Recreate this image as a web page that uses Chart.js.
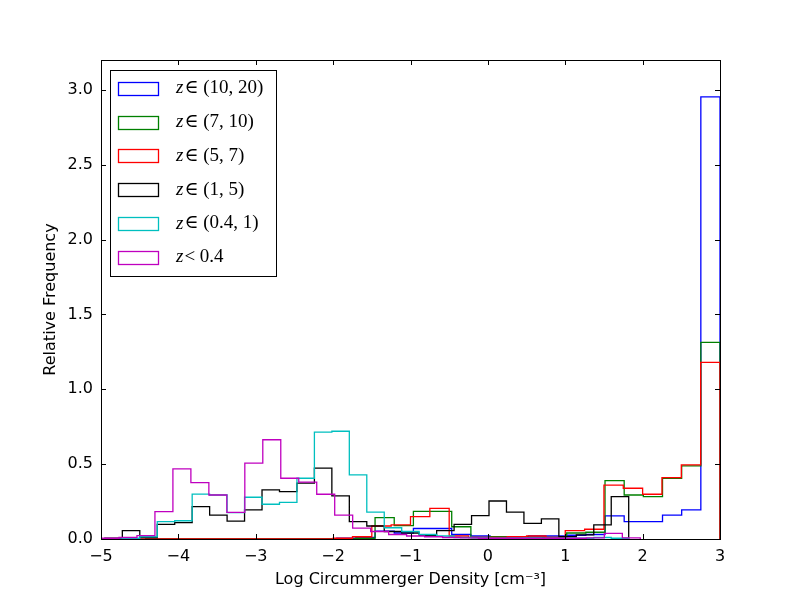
<!DOCTYPE html>
<html>
<head>
<meta charset="utf-8">
<script src="https://cdn.jsdelivr.net/npm/chart.js@4.4.1/dist/chart.umd.min.js"></script>
<style>
  body { margin: 0; background: #fff; }
</style>
</head>
<body>
<canvas id="hist" width="800" height="600"></canvas>
<script>
// bin range [lo, hi] of each histogram (30 bins each) and the bin heights
const blueRange = [-4.43, 3.0];
const blueHeights = [0, 0, 0, 0, 0, 0, 0, 0, 0, 0, 0.005, 0.01, 0.053, 0.04, 0.07, 0.07, 0.03, 0.02, 0.015, 0.015, 0.02, 0.02, 0.025, 0.03, 0.154, 0.116, 0.116, 0.16, 0.194, 2.954];

const greenRange = [-4.43, 3.0];
const greenHeights = [0, 0, 0, 0, 0, 0, 0, 0, 0, 0, 0, 0.005, 0.143, 0.089, 0.185, 0.185, 0.082, 0.01, 0.015, 0.015, 0.01, 0.01, 0.04, 0.045, 0.39, 0.294, 0.283, 0.406, 0.489, 1.314];

const redRange = [-4.5, 3.0];
const redHeights = [0, 0, 0, 0, 0, 0, 0, 0, 0, 0, 0.005, 0.015, 0.087, 0.094, 0.15, 0.205, 0.02, 0.01, 0.01, 0.015, 0.02, 0.01, 0.056, 0.065, 0.36, 0.339, 0.299, 0.41, 0.495, 1.18];

const blackRange = [-4.95, 1.82];
const blackHeights = [0.005, 0.056, 0.01, 0.098, 0.11, 0.216, 0.16, 0.12, 0.194, 0.328, 0.317, 0.373, 0.473, 0.288, 0.116, 0.087, 0.05, 0.04, 0.025, 0.056, 0.098, 0.156, 0.254, 0.179, 0.105, 0.134, 0.015, 0.027, 0.094, 0.283];

const cyanRange = [-4.95, 1.82];
const cyanHeights = [0, 0.005, 0.015, 0.116, 0.122, 0.30, 0.294, 0.176, 0.279, 0.232, 0.245, 0.406, 0.714, 0.72, 0.428, 0.179, 0.075, 0.05, 0.03, 0.02, 0.01, 0.008, 0.005, 0.005, 0.008, 0.005, 0.005, 0.005, 0.01, 0.005];

const magentaRange = [-5.0, 1.97];
const magentaHeights = [0.005, 0.01, 0.022, 0.183, 0.468, 0.377, 0.294, 0.178, 0.507, 0.663, 0.406, 0.38, 0.299, 0.16, 0.072, 0.05, 0.03, 0.02, 0.015, 0.01, 0.008, 0.005, 0.005, 0.005, 0.005, 0.005, 0.005, 0.008, 0.038, 0.008];

const labels = ["z∈ (10, 20)", "z∈ (7, 10)", "z∈ (5, 7)", "z∈ (1, 5)", "z∈ (0.4, 1)", "z< 0.4"];
const xTicks = [-5, -4, -3, -2, -1, 0, 1, 2, 3];
const yTicks = [0, 0.5, 1.0, 1.5, 2.0, 2.5, 3.0];

// outline of a step histogram: up at the first edge, along each bin, down at the last edge
function stepPoints(range, heights) {
  const w = (range[1] - range[0]) / heights.length;
  const pts = [{ x: range[0], y: 0 }];
  heights.forEach((h, i) => pts.push({ x: range[0] + i * w, y: h }));
  pts.push({ x: range[1], y: heights[heights.length - 1] });
  pts.push({ x: range[1], y: 0 });
  return pts;
}

const series = [
  [blueRange, blueHeights, "#0000ff"],
  [greenRange, greenHeights, "#008000"],
  [redRange, redHeights, "#ff0000"],
  [blackRange, blackHeights, "#000000"],
  [cyanRange, cyanHeights, "#00bfbf"],
  [magentaRange, magentaHeights, "#bf00bf"],
];

const datasets = series.map((s, i) => ({
  label: labels[i],
  data: stepPoints(s[0], s[1]),
  borderColor: s[2],
  borderWidth: 1.3,
  stepped: true,
  fill: false,
  pointRadius: 0,
  pointHoverRadius: 0,
  order: series.length - i,
}));

const tickFont = { family: "DejaVu Sans", size: 16 };

const framePlugin = {
  id: "frame",
  afterDraw(chart) {
    const ctx = chart.ctx;
    const a = chart.chartArea;
    const xs = chart.scales.x;
    const ys = chart.scales.y;
    ctx.save();
    ctx.strokeStyle = "#000";
    ctx.lineWidth = 1;
    ctx.strokeRect(Math.round(a.left) + 0.5, Math.round(a.top) + 0.5,
      Math.round(a.right - a.left), Math.round(a.bottom - a.top));

    // inward ticks on all four sides
    ctx.beginPath();
    xTicks.forEach(v => {
      const px = Math.round(xs.getPixelForValue(v)) + 0.5;
      ctx.moveTo(px, a.bottom); ctx.lineTo(px, a.bottom - 5);
      ctx.moveTo(px, a.top); ctx.lineTo(px, a.top + 5);
    });
    yTicks.forEach(v => {
      const py = Math.round(ys.getPixelForValue(v)) + 0.5;
      ctx.moveTo(a.left, py); ctx.lineTo(a.left + 5, py);
      ctx.moveTo(a.right, py); ctx.lineTo(a.right - 5, py);
    });
    ctx.stroke();

    // axis titles
    ctx.fillStyle = "#000";
    ctx.font = '16px "DejaVu Sans"';
    ctx.textAlign = "center";
    ctx.textBaseline = "middle";
    ctx.fillText("Log Circummerger Density [cm⁻³]", (a.left + a.right) / 2, 580);
    ctx.save();
    ctx.translate(51, (a.top + a.bottom) / 2);
    ctx.rotate(-Math.PI / 2);
    ctx.fillText("Relative Frequency", 0, 0);
    ctx.restore();

    // legend box
    const lx = 110.5, ly = 70.5, lw = 166, lh = 206;
    ctx.fillStyle = "#fff";
    ctx.fillRect(lx, ly, lw, lh);
    ctx.strokeStyle = "#000";
    ctx.strokeRect(lx, ly, lw, lh);
    ctx.textAlign = "left";
    chart.data.datasets.forEach((ds, i) => {
      const cy = 88.3 + i * 33.8;
      ctx.strokeStyle = ds.borderColor;
      ctx.lineWidth = 1.3;
      ctx.strokeRect(118.5, Math.round(cy - 6.5) + 0.5, 40, 13);
      let tx = 176;
      ctx.fillStyle = "#000";
      ctx.font = 'italic 19px "Liberation Serif", "DejaVu Serif"';
      ctx.fillText(ds.label[0], tx, cy);
      tx += ctx.measureText(ds.label[0]).width + 1;
      ctx.font = '19px "Liberation Serif", "DejaVu Serif"';
      ctx.fillText(ds.label.slice(1), tx, cy);
    });
    ctx.restore();
  },
};

new Chart(document.getElementById("hist"), {
  type: "line",
  data: { datasets: datasets },
  options: {
    responsive: false,
    animation: false,
    events: [],
    layout: { padding: { left: 0, right: 80, top: 60, bottom: 0 } },
    scales: {
      x: {
        type: "linear",
        min: -5,
        max: 3,
        afterFit: (scale) => { scale.height = 61; },
        afterBuildTicks: (scale) => { scale.ticks = xTicks.map(v => ({ value: v })); },
        grid: { display: false, drawTicks: false },
        border: { display: false },
        ticks: {
          padding: 8,
          color: "#000",
          font: tickFont,
          maxRotation: 0,
          callback: (v) => (v < 0 ? "\u2212" + Math.abs(v) : String(v)),
        },
      },
      y: {
        type: "linear",
        min: 0,
        max: 3.2,
        afterFit: (scale) => { scale.width = 101; },
        afterBuildTicks: (scale) => { scale.ticks = yTicks.map(v => ({ value: v })); },
        grid: { display: false, drawTicks: false },
        border: { display: false },
        ticks: {
          padding: 8,
          color: "#000",
          font: tickFont,
          callback: (v) => v.toFixed(1),
        },
      },
    },
    plugins: {
      legend: { display: false },
      tooltip: { enabled: false },
    },
  },
  plugins: [framePlugin],
});
</script>
</body>
</html>
